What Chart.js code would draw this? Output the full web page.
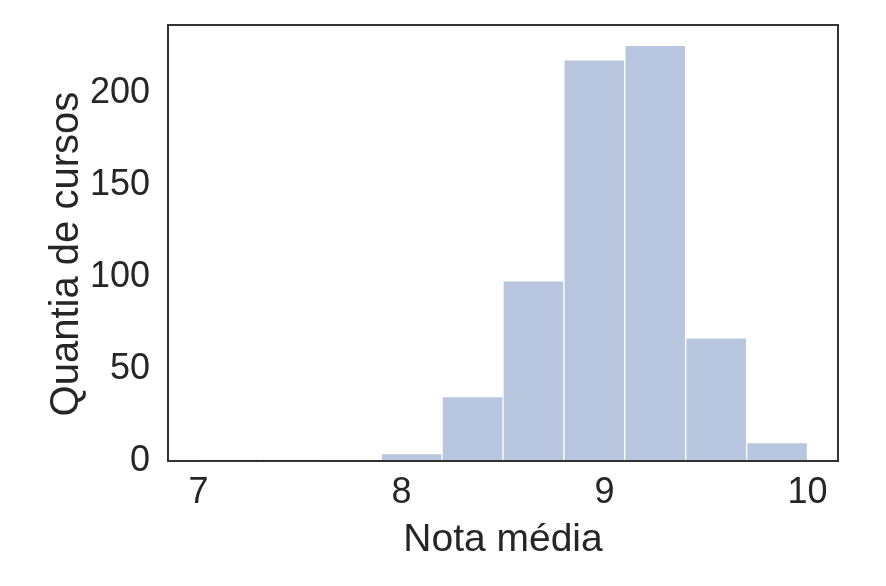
<!DOCTYPE html>
<html lang="pt">
<head>
<meta charset="UTF-8">
<title>Nota média - histograma</title>
<style>
body { margin: 0; background: #fff; }
#wrap { width: 886px; height: 586px; }
</style>
</head>
<body>
<div id="wrap"><canvas id="histChart" width="886" height="586"></canvas></div>

<script src="https://cdn.jsdelivr.net/npm/chart.js"></script>
<script>
// histogram bins (edges) and counts
const binEdges = [7.0, 7.3, 7.6, 7.9, 8.2, 8.5, 8.8, 9.1, 9.4, 9.7, 10.0];
const counts = [1, 1, 0, 4, 35, 98, 218, 226, 67, 10];
const xTicks = [7, 8, 9, 10];
const yTicks = [0, 50, 100, 150, 200];

const barData = counts.map((c, i) => ({ x: (binEdges[i] + binEdges[i + 1]) / 2, y: c }));

const textColor = '#262626';
const fontFamily = "'Liberation Sans', Arial, sans-serif";

// draws the box around the plot area (seaborn "white" style)
const frame = {
    id: 'frame',
    afterDraw(chart) {
        const { ctx, chartArea: a } = chart;
        ctx.save();
        ctx.strokeStyle = '#333';
        ctx.lineWidth = 2;
        ctx.strokeRect(a.left, a.top, a.right - a.left, a.bottom - a.top);
        ctx.restore();
    }
};

new Chart(document.getElementById('histChart'), {
    type: 'bar',
    data: {
        datasets: [{
            data: barData,
            backgroundColor: 'rgb(184, 199, 223)',
            borderColor: 'rgba(255, 255, 255, 0.75)',
            borderWidth: 1,
            barPercentage: 1,
            categoryPercentage: 1
        }]
    },
    options: {
        responsive: false,
        animation: false,
        layout: { padding: { top: 25, right: 48, left: 0, bottom: 0 } },
        plugins: { legend: { display: false }, tooltip: { enabled: false } },
        scales: {
            x: {
                type: 'linear',
                offset: false,
                min: 6.85,
                max: 10.15,
                grid: { display: false, drawTicks: false },
                border: { display: false },
                afterBuildTicks: s => { s.ticks = xTicks.map(v => ({ value: v })); },
                afterFit: s => { s.height = 125; s.paddingLeft = 0; s.paddingRight = 0; },
                ticks: {
                    color: textColor,
                    padding: 10,
                    maxRotation: 0,
                    font: { family: fontFamily, size: 36 }
                },
                title: {
                    display: true,
                    text: 'Nota média',
                    color: textColor,
                    padding: { top: 0, bottom: 22 },
                    font: { family: fontFamily, size: 39 }
                }
            },
            y: {
                min: 0,
                max: 237,
                grid: { display: false, drawTicks: false },
                border: { display: false },
                afterBuildTicks: s => { s.ticks = yTicks.map(v => ({ value: v })); },
                afterFit: s => { s.width = 168; s.paddingTop = 0; s.paddingBottom = 0; },
                ticks: {
                    color: textColor,
                    padding: 18,
                    font: { family: fontFamily, size: 36 }
                },
                title: {
                    display: true,
                    text: 'Quantia de cursos  ',
                    color: textColor,
                    padding: { top: 43, bottom: 0 },
                    font: { family: fontFamily, size: 40 }
                }
            }
        }
    },
    plugins: [frame]
});
</script>
</body>
</html>
